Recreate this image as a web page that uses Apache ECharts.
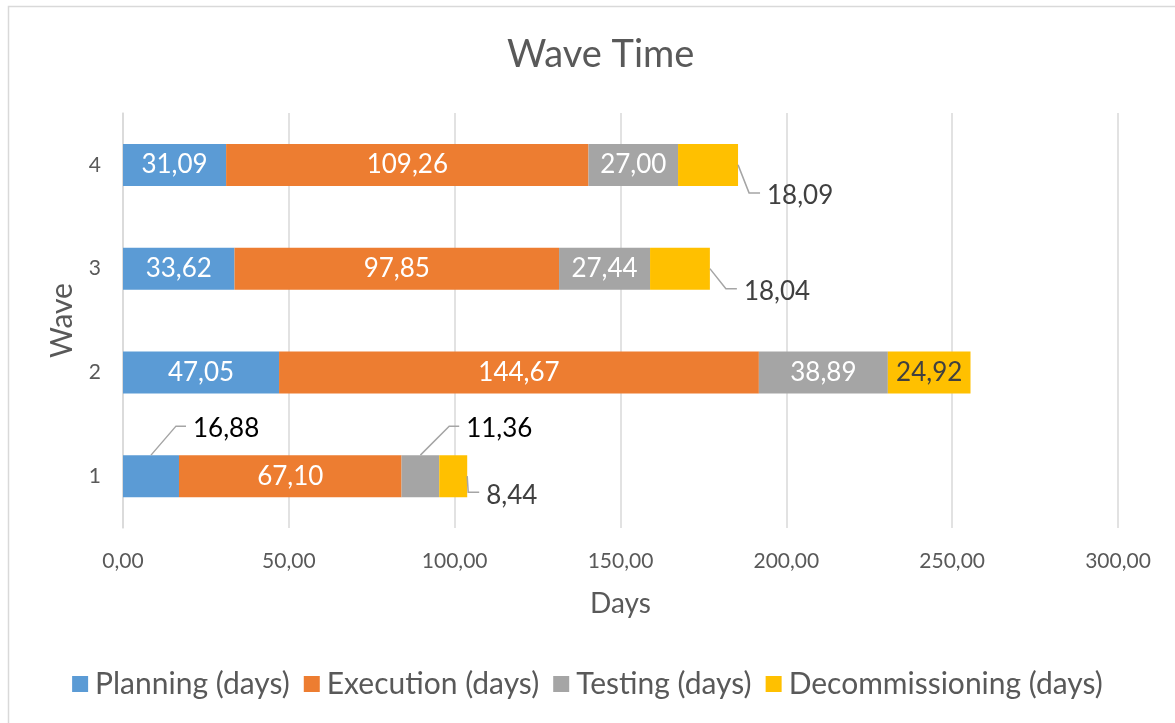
<!DOCTYPE html>
<html>
<head>
<meta charset="utf-8">
<script src="https://cdn.jsdelivr.net/npm/echarts@6/dist/echarts.min.js"></script>
<style>
  html, body { margin: 0; padding: 0; background: #fff; }
  #figure0 { width: 1175px; height: 723px; }
</style>
</head>
<body>
<div id="figure0"></div>
<script>
var waves = ['1', '2', '3', '4'];
var seriesNames = ['Planning (days)', 'Execution (days)', 'Testing (days)', 'Decommissioning (days)'];
var planning = [16.88, 47.05, 33.62, 31.09];
var execution = [67.10, 144.67, 97.85, 109.26];
var testing = [11.36, 38.89, 27.44, 27.00];
var decommissioning = [8.44, 24.92, 18.04, 18.09];
var xTicks = [0, 50, 100, 150, 200, 250, 300];

var allValues = [planning, execution, testing, decommissioning];
var colors = ['#5B9BD5', '#ED7D31', '#A5A5A5', '#FFC000'];
var font = 'Lato, "Open Sans", sans-serif';
var barPx = 42;

// labels Excel pushed outside the bar, key = series-wave
// up: leader goes from the top of the segment; right: from its right edge
var outside = {
    '0-0': {side: 'up', dx: 14, dy: -27},
    '2-0': {side: 'up', dx: 27, dy: -27},
    '3-0': {side: 'right', dx: 19, dy: 19},
    '3-2': {side: 'right', dx: 34, dy: 23},
    '3-3': {side: 'right', dx: 29, dy: 31}
};

function fmt(v) { return v.toFixed(2).replace('.', ','); }

function segStart(si, wi) {
    var s = 0;
    for (var k = 0; k < si; k++) s += allValues[k][wi];
    return s;
}

var figure0 = echarts.init(document.getElementById('figure0'));

function makeSeries(name, values, si) {
    return {
        name: name,
        type: 'bar',
        stack: 'total',
        barWidth: barPx,
        itemStyle: {color: colors[si]},
        label: {
            show: true,
            position: 'inside',
            color: si === 3 ? '#404040' : '#fff',
            fontFamily: font,
            fontSize: 26,
            formatter: function (p) { return fmt(p.value); }
        },
        labelLayout: function (p) {
            var o = outside[si + '-' + p.dataIndex];
            if (!o) return {};
            var r = p.rect;
            var y0 = o.side === 'up' ? r.y : r.y + r.height / 2;
            return {x: r.x + r.width + o.dx, y: y0 + o.dy, align: 'left', verticalAlign: 'middle'};
        },
        data: values.map(function (v, i) {
            var o = outside[si + '-' + i];
            if (o) return {value: v, label: {color: si === 3 ? '#404040' : '#000'}};
            return v;
        })
    };
}

// leader lines for the outside labels, placed through the axes
var leaderData = [];
Object.keys(outside).forEach(function (key) {
    var parts = key.split('-');
    var si = +parts[0], wi = +parts[1];
    leaderData.push([segStart(si, wi) + allValues[si][wi], wi, si]);
});

var leaderSeries = {
    type: 'custom',
    silent: true,
    z: 5,
    renderItem: function (params, api) {
        var wi = api.value(1), si = api.value(2);
        var o = outside[si + '-' + wi];
        var end = api.coord([api.value(0), wi]);
        var start = api.coord([segStart(si, wi), wi]);
        var pts;
        if (o.side === 'up') {
            var sx = (start[0] + end[0]) / 2;
            var top = end[1] - barPx / 2;
            var ly = top + o.dy - 2;
            var lx = end[0] + o.dx - 7;
            pts = [[sx, top], [lx - 10, ly], [lx, ly]];
        } else {
            var ly2 = end[1] + o.dy - 3;
            var lx2 = end[0] + o.dx - 7;
            pts = [[end[0], end[1]], [lx2 - 11, ly2], [lx2, ly2]];
        }
        return {
            type: 'polyline',
            shape: {points: pts},
            style: {stroke: '#A5A5A5', lineWidth: 1.5, fill: 'none'}
        };
    },
    data: leaderData
};

var option = {
    animation: false,
    textStyle: {fontFamily: font},
    title: {
        text: 'Wave Time',
        left: 502,
        top: 31,
        textStyle: {color: '#595959', fontWeight: 'normal', fontSize: 38, fontFamily: font}
    },
    graphic: [{
        type: 'rect',
        shape: {x: 8.5, y: 6.5, width: 1300, height: 900},
        style: {fill: 'none', stroke: '#D9D9D9', lineWidth: 1.5},
        silent: true
    }],
    legend: {
        bottom: 19,
        left: 'center',
        itemWidth: 16,
        itemHeight: 16,
        itemGap: 14,
        icon: 'rect',
        textStyle: {color: '#595959', fontSize: 30, fontFamily: font, padding: [0, 0, 0, 2]},
        data: seriesNames
    },
    grid: {left: 123, right: 57, top: 113, bottom: 195},
    xAxis: {
        type: 'value',
        min: xTicks[0],
        max: xTicks[xTicks.length - 1],
        interval: 50,
        name: 'Days',
        nameLocation: 'middle',
        nameGap: 62,
        nameTextStyle: {color: '#595959', fontSize: 28, fontFamily: font},
        axisLine: {show: false},
        axisTick: {show: false},
        axisLabel: {color: '#595959', fontSize: 21, margin: 23, fontFamily: font,
            formatter: function (v) { return fmt(v); }},
        splitLine: {lineStyle: {color: '#D9D9D9', width: 1.5}}
    },
    yAxis: {
        type: 'category',
        data: waves,
        name: 'Wave',
        nameLocation: 'middle',
        nameGap: 46,
        nameTextStyle: {color: '#595959', fontSize: 30, fontFamily: font},
        axisLine: {lineStyle: {color: '#D9D9D9', width: 1.5}},
        axisTick: {length: 7, lineStyle: {color: '#D9D9D9', width: 1.5}},
        axisLabel: {color: '#595959', fontSize: 21, margin: 22, fontFamily: font}
    },
    series: [
        makeSeries(seriesNames[0], planning, 0),
        makeSeries(seriesNames[1], execution, 1),
        makeSeries(seriesNames[2], testing, 2),
        makeSeries(seriesNames[3], decommissioning, 3),
        leaderSeries
    ]
};
figure0.setOption(option);
</script>
</body>
</html>
